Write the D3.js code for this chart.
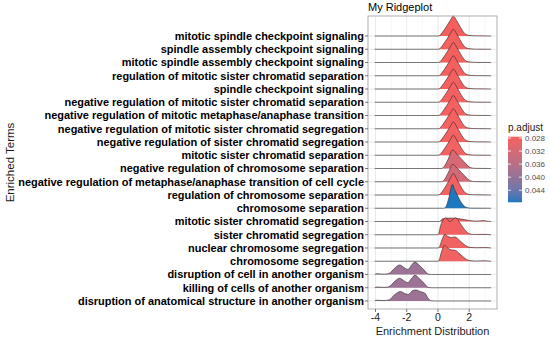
<!DOCTYPE html>
<html><head><meta charset="utf-8">
<script src="https://cdn.jsdelivr.net/npm/d3@7"></script>
<style>body{margin:0;background:#fff}svg{display:block;font-family:"Liberation Sans",Arial,sans-serif}</style>
</head><body><svg id="c" width="550" height="339"></svg>
<script>
// ---- data ----
const terms = [
 "mitotic spindle checkpoint signaling",
 "spindle assembly checkpoint signaling",
 "mitotic spindle assembly checkpoint signaling",
 "regulation of mitotic sister chromatid separation",
 "spindle checkpoint signaling",
 "negative regulation of mitotic sister chromatid separation",
 "negative regulation of mitotic metaphase/anaphase transition",
 "negative regulation of mitotic sister chromatid segregation",
 "negative regulation of sister chromatid segregation",
 "mitotic sister chromatid separation",
 "negative regulation of chromosome separation",
 "negative regulation of metaphase/anaphase transition of cell cycle",
 "regulation of chromosome separation",
 "chromosome separation",
 "mitotic sister chromatid segregation",
 "sister chromatid segregation",
 "nuclear chromosome segregation",
 "chromosome segregation",
 "disruption of cell in another organism",
 "killing of cells of another organism",
 "disruption of anatomical structure in another organism"
];
const pAdjust = [0.0276,0.0276,0.0276,0.0277,0.0277,0.0278,0.0278,0.0278,0.0279,0.0279,
                 0.0320,0.0322,0.0280,0.0477,0.0281,0.0281,0.0282,0.0282,0.0392,0.0392,0.0392];
// density outlines, [x, height in row units]
const redCurve = [[-4.05,0],[0.0,0],[0.1,0.03],[0.3,0.3],[0.56,0.75],[0.8,1.2],[0.98,1.51],[1.2,1.15],[1.41,0.72],[1.62,0.32],[1.84,0.09],[2.1,0.03],[2.4,0.01],[3.4,0]];
const red13Curve = [[-4.05,0],[0.0,0],[0.1,0.03],[0.3,0.3],[0.56,0.8],[0.8,1.28],[0.98,1.62],[1.2,1.22],[1.41,0.76],[1.62,0.34],[1.84,0.1],[2.1,0.03],[2.4,0.01],[3.4,0]];
const mauveCurve = [[-4.05,0],[0.2,0],[0.4,0.15],[0.65,0.7],[0.95,1.4],[1.2,1.1],[1.5,0.72],[1.8,0.35],[2.05,0.08],[2.4,0.01],[3.4,0]];
const mauve12Curve = [[-4.05,0],[0.2,0],[0.4,0.14],[0.65,0.66],[0.95,1.32],[1.2,1.05],[1.5,0.7],[1.8,0.34],[2.05,0.08],[2.4,0.01],[3.4,0]];
const blueCurve = [[-4.05,0],[0.35,0],[0.5,0.1],[0.7,0.8],[0.92,1.8],[1.1,1.3],[1.24,1.0],[1.52,0.38],[1.84,0.06],[2.1,0.01],[3.4,0]];
const r15Curve = [[-4.05,0],[0.1,0],[0.3,0.2],[0.8,0.26],[1.4,0.2],[2.0,0.08],[2.5,0.03],[2.9,0.07],[3.2,0.02],[3.4,0]];
const r16Curve = [[-4.05,0],[-0.05,0],[0.05,0.1],[0.15,0.6],[0.3,1.05],[0.5,1.28],[0.77,0.98],[1.0,1.2],[1.15,1.28],[1.4,0.9],[1.7,0.4],[2.05,0.06],[2.4,0.02],[2.9,0.03],[3.4,0]];
const r17Curve = [[-4.05,0],[0.0,0],[0.1,0.1],[0.25,0.6],[0.45,1.03],[0.65,0.86],[0.85,0.8],[1.1,0.83],[1.4,0.55],[1.7,0.25],[2.05,0.05],[2.5,0.02],[3.0,0.03],[3.4,0]];
const r18Curve = [[-4.05,0],[0.0,0],[0.08,0.1],[0.2,0.6],[0.42,1.2],[0.62,1.0],[0.85,0.86],[1.1,0.83],[1.4,0.55],[1.7,0.25],[2.0,0.06],[2.5,0.02],[2.9,0.04],[3.4,0]];
const purpleCurve = [[-4.05,0],[-3.9,0.06],[-3.7,0.04],[-3.4,0.03],[-3.1,0.1],[-2.8,0.45],[-2.45,0.72],[-2.2,0.55],[-1.92,0.38],[-1.7,0.7],[-1.47,0.94],[-1.2,0.7],[-0.9,0.35],[-0.62,0.03],[-0.4,0],[3.4,0]];
const purple21Curve = [[-4.05,0],[-3.9,0.06],[-3.5,0.03],[-3.1,0.1],[-2.8,0.45],[-2.4,0.72],[-2.1,0.55],[-1.9,0.5],[-1.6,0.8],[-1.4,0.83],[-1.1,0.7],[-0.85,0.6],[-0.65,0.25],[-0.45,0.02],[-0.2,0],[3.4,0]];
const rowCurves = [redCurve,redCurve,redCurve,redCurve,redCurve,redCurve,redCurve,redCurve,redCurve,redCurve,
                   mauveCurve,mauve12Curve,red13Curve,blueCurve,r15Curve,r16Curve,r17Curve,r18Curve,purpleCurve,purpleCurve,purple21Curve];
const xTicks = [-4,-2,0,2];
const legendTicks = [0.028,0.032,0.036,0.040,0.044];
const title = "My Ridgeplot", xTitle = "Enrichment Distribution", yTitle = "Enriched Terms", legendTitle = "p.adjust";

// ---- layout ----
const svg = d3.select("#c");
const P = {l:368, r:497, t:16, b:309};
const n = terms.length;
const x = d3.scaleLinear().domain([-4.48,3.78]).range([P.l,P.r]);
const y = d3.scaleLinear().domain([0.396,22.51]).range([P.b,P.t]);
const pos = i => n - i; // row index (top=0) -> position from bottom
const pMin = d3.min(pAdjust), pMax = d3.max(pAdjust);
const color = d3.scaleLinear().domain([pMin,pMax]).range(["#f5605f","#1f77bd"]).interpolate(d3.interpolateLab);

// grid
const g = svg.append("g");
const minor = [-3,-1,1,3];
g.selectAll(".mn").data(minor).join("line").attr("x1",d=>x(d)).attr("x2",d=>x(d)).attr("y1",P.t).attr("y2",P.b).attr("stroke","#f3f3f3").attr("stroke-width",0.6);
g.selectAll(".mj").data(xTicks).join("line").attr("x1",d=>x(d)).attr("x2",d=>x(d)).attr("y1",P.t).attr("y2",P.b).attr("stroke","#e6e6e6").attr("stroke-width",0.9);
g.selectAll(".hj").data(terms).join("line").attr("x1",P.l).attr("x2",P.r).attr("y1",(d,i)=>y(pos(i))).attr("y2",(d,i)=>y(pos(i))).attr("stroke","#e6e6e6").attr("stroke-width",0.9);

// ridges (top first, bottom drawn last on top)
const rg = svg.append("g");
terms.forEach((t,i)=>{
  const k = pos(i);
  const area = d3.area().x(d=>x(d[0])).y0(y(k)).y1(d=>y(k+d[1])).curve(d3.curveMonotoneX);
  const line = d3.line().x(d=>x(d[0])).y(d=>y(k+d[1])).curve(d3.curveMonotoneX);
  rg.append("path").datum(rowCurves[i]).attr("d",area).attr("fill",color(pAdjust[i]));
  rg.append("path").datum(rowCurves[i]).attr("d",line).attr("fill","none").attr("stroke","#2a2a2a").attr("stroke-width",0.6);
});

// panel border
svg.append("rect").attr("x",P.l).attr("y",P.t).attr("width",P.r-P.l).attr("height",P.b-P.t).attr("fill","none").attr("stroke","#a6a6a6").attr("stroke-width",0.9);

// x axis
const xa = svg.append("g");
xa.selectAll("line").data(xTicks).join("line").attr("x1",d=>x(d)).attr("x2",d=>x(d)).attr("y1",P.b).attr("y2",P.b+3).attr("stroke","#444").attr("stroke-width",0.7);
xa.selectAll("text").data(xTicks).join("text").attr("x",d=>x(d)).attr("y",P.b+12).attr("text-anchor","middle").attr("font-size",10.5).attr("fill","#1a1a1a").text(d=>d3.format("d")(d).replace("−","-"));
svg.append("text").attr("x",(P.l+P.r)/2).attr("y",334.5).attr("text-anchor","middle").attr("font-size",11).attr("fill","#1a1a1a").text(xTitle);

// y axis
const ya = svg.append("g");
ya.selectAll("line").data(terms).join("line").attr("x1",P.l-3).attr("x2",P.l).attr("y1",(d,i)=>y(pos(i))).attr("y2",(d,i)=>y(pos(i))).attr("stroke","#444").attr("stroke-width",0.7);
const labs = ya.selectAll("text").data(terms).join("text").attr("x",P.l-4).attr("y",(d,i)=>y(pos(i))).attr("dy","0.35em").attr("text-anchor","end").attr("font-weight","bold").attr("font-size",10).attr("fill","#000").text(d=>d);
let wmax = 0; labs.each(function(){wmax=Math.max(wmax,this.getComputedTextLength());});
labs.attr("font-size",10*346/wmax);
svg.append("text").attr("transform",`translate(14,${(P.t+P.b)/2}) rotate(-90)`).attr("text-anchor","middle").attr("font-size",11.5).attr("fill","#1a1a1a").text(yTitle);

// title
svg.append("text").attr("x",P.l).attr("y",11).attr("font-size",11).attr("fill","#000").text(title);

// legend
const L = {x:508, w:14, t:136.7, b:202.3};
const ly = d3.scaleLinear().domain([pMin,pMax]).range([L.t,L.b]);
const defs = svg.append("defs");
const grad = defs.append("linearGradient").attr("id","lg").attr("x1",0).attr("x2",0).attr("y1",0).attr("y2",1);
d3.range(0,1.0001,0.1).forEach(s=>grad.append("stop").attr("offset",s).attr("stop-color",color(pMin+s*(pMax-pMin))));
svg.append("rect").attr("x",L.x).attr("y",L.t).attr("width",L.w).attr("height",L.b-L.t).attr("fill","url(#lg)");
const lt = svg.append("g");
legendTicks.forEach(v=>{
  lt.append("line").attr("x1",L.x).attr("x2",L.x+3).attr("y1",ly(v)).attr("y2",ly(v)).attr("stroke","#fff").attr("stroke-width",0.8);
  lt.append("line").attr("x1",L.x+L.w-3).attr("x2",L.x+L.w).attr("y1",ly(v)).attr("y2",ly(v)).attr("stroke","#fff").attr("stroke-width",0.8);
  lt.append("text").attr("x",L.x+L.w+3).attr("y",ly(v)).attr("dy","0.35em").attr("font-size",8).attr("fill","#4d4d4d").text(d3.format(".3f")(v));
});
svg.append("text").attr("x",L.x).attr("y",131).attr("font-size",10).attr("fill","#1a1a1a").text(legendTitle);
</script></body></html>
